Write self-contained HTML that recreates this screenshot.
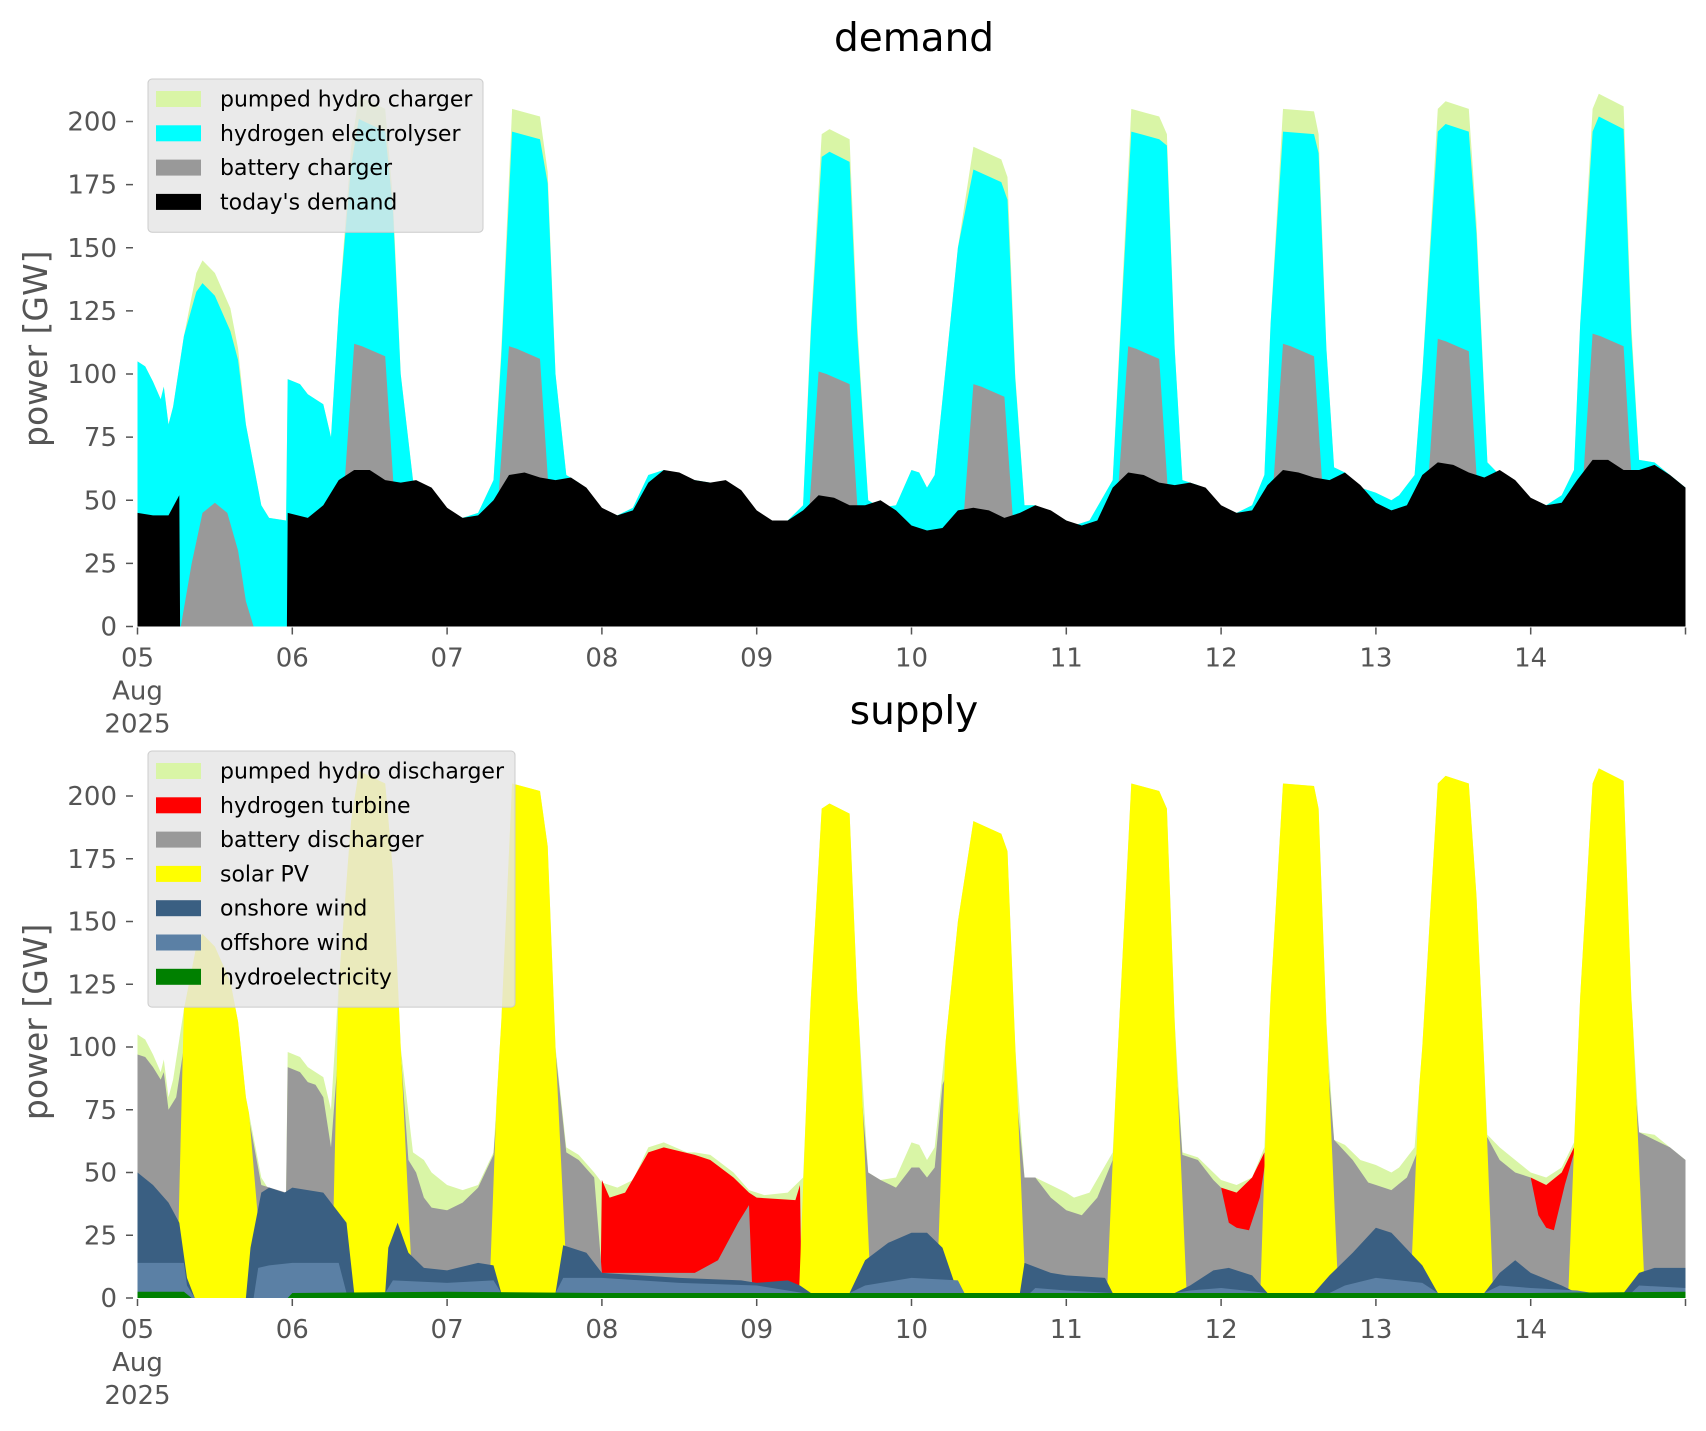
<!DOCTYPE html>
<html><head><meta charset="utf-8">
<style>
html,body{margin:0;padding:0;background:#fff;}
svg{display:block;font-family:"DejaVu Sans","Liberation Sans",sans-serif;}
</style></head>
<body>
<svg id="s" width="1706" height="1431" viewBox="0 0 1706 1431" xmlns="http://www.w3.org/2000/svg">
<g id="gtop"></g><g id="gbot"></g><g id="gann"></g>
</svg>
<script>
(function(){
var X0=137.5, DW=154.8;
function X(d){return X0+DW*d;}
var P1={z:626.5,k:2.525}, P2={z:1298,k:2.51};
function poly(P,pts,col){
  var s="M"+X(pts[0][0]).toFixed(1)+","+P.z.toFixed(1);
  for(var i=0;i<pts.length;i++){s+=" L"+X(pts[i][0]).toFixed(1)+","+(P.z-pts[i][1]*P.k).toFixed(1);}
  s+=" L"+X(pts[pts.length-1][0]).toFixed(1)+","+P.z.toFixed(1)+" Z";
  return '<path d="'+s+'" fill="'+col+'" stroke="none"/>';
}
var T=[[0,105],[0.05,103],[0.1,97],[0.15,90],[0.17,95],[0.2,80],[0.23,87],[0.3,115],[0.38,140],[0.42,145],[0.5,140],[0.6,126],[0.65,110],[0.7,80],[0.8,48],[0.85,43],[0.96,42],[0.97,98],[1.05,96],[1.1,92],[1.15,90],[1.2,88],[1.25,75],[1.3,125],[1.38,190],[1.43,210],[1.6,205],[1.65,170],[1.7,100],[1.78,58],[1.85,55],[1.9,50],[2.0,45],[2.1,43],[2.2,45],[2.3,58],[2.35,110],[2.42,205],[2.6,202],[2.65,180],[2.7,100],[2.77,60],[2.85,57],[2.95,50],[3.0,46],[3.1,44],[3.2,47],[3.3,60],[3.4,62],[3.55,58],[3.6,58],[3.7,57],[3.85,50],[3.95,43],[4.05,41],[4.2,42],[4.3,48],[4.35,120],[4.42,195],[4.47,197],[4.6,193],[4.65,120],[4.72,50],[4.8,47],[4.9,48],[5.0,62],[5.05,61],[5.1,55],[5.15,60],[5.2,90],[5.3,150],[5.4,190],[5.58,185],[5.62,178],[5.67,100],[5.73,48],[5.8,48],[5.9,45],[6.0,42],[6.05,40],[6.15,42],[6.3,58],[6.35,120],[6.42,205],[6.6,202],[6.65,195],[6.7,110],[6.75,58],[6.85,56],[6.95,50],[7.0,47],[7.1,45],[7.2,48],[7.28,60],[7.32,120],[7.4,205],[7.6,204],[7.63,195],[7.68,110],[7.73,63],[7.8,61],[7.9,55],[8.0,53],[8.1,50],[8.15,52],[8.25,60],[8.3,100],[8.4,205],[8.45,208],[8.6,205],[8.65,160],[8.72,65],[8.8,60],[8.9,55],[9.0,50],[9.1,48],[9.2,52],[9.28,62],[9.32,120],[9.4,205],[9.44,211],[9.6,206],[9.65,120],[9.7,66],[9.8,65],[9.9,60],[10.0,55]];
var peakDays={0:1,1:1,2:1,4:1,5:1,6:1,7:1,8:1,9:1};
var E=T.map(function(p){var k=Math.floor(p[0]),f=p[0]-k,ph=0;
  if(peakDays[k]){ph=9*Math.max(0,Math.min(1,Math.min(f-0.33,0.68-f)/0.06));}
  return [p[0],p[1]-ph];});
var D=[[0,45],[0.1,44],[0.2,44],[0.27,52],[0.275,0],[0.965,0],[0.97,45],[1.1,43],[1.2,48],[1.3,58],[1.4,62],[1.5,62],[1.6,58],[1.7,57],[1.8,58],[1.9,55],[2.0,47],[2.1,43],[2.2,44],[2.3,50],[2.4,60],[2.5,61],[2.6,59],[2.7,58],[2.8,59],[2.9,55],[3.0,47],[3.1,44],[3.2,46],[3.3,57],[3.4,62],[3.5,61],[3.6,58],[3.7,57],[3.8,58],[3.9,54],[4.0,46],[4.1,42],[4.2,42],[4.3,46],[4.4,52],[4.5,51],[4.6,48],[4.7,48],[4.8,50],[4.9,46],[5.0,40],[5.1,38],[5.2,39],[5.3,46],[5.4,47],[5.5,46],[5.6,43],[5.7,45],[5.8,48],[5.9,46],[6.0,42],[6.1,40],[6.2,42],[6.3,55],[6.4,61],[6.5,60],[6.6,57],[6.7,56],[6.8,57],[6.9,55],[7.0,48],[7.1,45],[7.2,46],[7.3,56],[7.4,62],[7.5,61],[7.6,59],[7.7,58],[7.8,61],[7.9,56],[8.0,49],[8.1,46],[8.2,48],[8.3,60],[8.4,65],[8.5,64],[8.6,61],[8.7,59],[8.8,62],[8.9,58],[9.0,51],[9.1,48],[9.2,49],[9.3,58],[9.4,66],[9.5,66],[9.6,62],[9.7,62],[9.8,64],[9.9,60],[10.0,55]];
var tp="";
tp+=poly(P1,T,"#d9f5a6");
tp+=poly(P1,E,"#00ffff");
tp+=poly(P1,[[0.28,0],[0.35,25],[0.42,45],[0.5,49],[0.58,45],[0.65,30],[0.7,10],[0.75,0]],"#999999");
var bp={1:112,2:111,4:101,5:96,6:111,7:112,8:114,9:116};
for(var k in bp){k=+k;var P=bp[k],lo=(k==4||k==5)?38:50;
 tp+=poly(P1,[[k+0.32,0],[k+0.33,lo],[k+0.4,P],[k+0.45,P-1],[k+0.6,P-5],[k+0.66,lo],[k+0.67,0]],"#999999");}
tp+=poly(P1,D,"#000000");
document.getElementById("gtop").innerHTML=tp;

var bt="";
bt+=poly(P2,T,"#d9f5a6");
var H=[[[2.99,0],[3.0,47],[3.05,40],[3.15,42],[3.3,58],[3.4,60],[3.6,57],[3.7,55],[3.85,48],[3.95,42],[4.0,40],[4.25,39],[4.28,45],[4.29,0]],
 [[7.0,0],[7.0,44],[7.1,42],[7.2,48],[7.28,58],[7.29,0]],
 [[9.0,0],[9.0,48],[9.1,45],[9.2,50],[9.28,60],[9.29,0]]];
H.forEach(function(h){bt+=poly(P2,h,"#ff0000");});
var Bs=[[0,97],[0.05,96],[0.1,92],[0.15,87],[0.17,90],[0.2,75],[0.25,80],[0.3,100],[0.7,78],[0.8,45],[0.96,42],[0.97,92],[1.05,90],[1.1,86],[1.15,85],[1.2,80],[1.25,60],[1.3,100],[1.7,98],[1.75,55],[1.8,50],[1.85,40],[1.9,36],[2.0,35],[2.1,38],[2.2,44],[2.3,57],[2.35,100],[2.7,98],[2.77,58],[2.85,55],[2.95,48],[3.0,10],[3.6,10],[3.75,15],[3.88,30],[3.95,37],[3.97,5],[4.28,5],[4.32,48],[4.4,100],[4.65,100],[4.72,50],[4.8,47],[4.9,44],[5.0,52],[5.05,52],[5.1,48],[5.15,52],[5.2,85],[5.3,100],[5.65,98],[5.73,48],[5.8,48],[5.9,40],[6.0,35],[6.1,33],[6.2,40],[6.3,55],[6.35,100],[6.7,100],[6.75,57],[6.85,55],[6.95,47],[7.0,44],[7.05,30],[7.1,28],[7.18,27],[7.25,40],[7.3,60],[7.35,100],[7.68,100],[7.73,63],[7.85,55],[7.95,46],[8.0,45],[8.1,43],[8.2,48],[8.3,63],[8.35,100],[8.7,64],[8.72,64],[8.8,55],[8.9,50],[9.0,48],[9.05,33],[9.1,28],[9.15,27],[9.22,45],[9.3,62],[9.35,100],[9.65,100],[9.7,66],[9.8,63],[9.9,60],[10,55]];
bt+=poly(P2,Bs,"#999999");
function Tat(t){for(var i=1;i<T.length;i++){if(T[i][0]>=t){var a=T[i-1],b=T[i];return a[1]+(b[1]-a[1])*(t-a[0])/(b[0]-a[0]);}}return T[T.length-1][1];}
function solar(s,e,s0,e0){
  var pts=[[s0,0],[s0+0.005,5]];
  pts.push([s,Tat(s)]);
  T.forEach(function(p){if(p[0]>s&&p[0]<e)pts.push([p[0],p[1]]);});
  pts.push([e,Tat(e)]);
  pts.push([e0-0.005,5]);pts.push([e0,0]);
  bt+=poly(P2,pts,"#ffff00");
}
solar(0.3,0.72,0.25,0.82);
var sw={1:[1.3,1.7,1.25,1.78],2:[2.32,2.7,2.27,2.78],4:[4.32,4.66,4.27,4.74],5:[5.22,5.66,5.16,5.74],6:[6.32,6.7,6.26,6.78],7:[7.3,7.68,7.25,7.76],8:[8.28,8.7,8.22,8.76],9:[9.3,9.66,9.24,9.74]};
for(var k in sw){var w=sw[k];solar(w[0],w[1],w[2],w[3]);}
var ON=[[0,50],[0.1,45],[0.2,38],[0.27,30],[0.32,8],[0.37,0],[0.7,0],[0.73,20],[0.8,42],[0.85,44],[0.95,42],[1.0,44],[1.2,42],[1.35,30],[1.4,2],[1.6,2],[1.62,20],[1.68,30],[1.75,18],[1.85,12],[2.0,11],[2.2,14],[2.3,13],[2.35,2],[2.7,2],[2.75,21],[2.9,18],[3.0,10],[3.5,8],[3.9,7],[4.0,6],[4.2,7],[4.28,5],[4.35,2],[4.6,2],[4.7,15],[4.85,22],[5.0,26],[5.1,26],[5.2,20],[5.3,2],[5.7,2],[5.73,14],[5.9,10],[6.0,9],[6.25,8],[6.3,2],[6.7,2],[6.8,5],[6.95,11],[7.05,12],[7.2,9],[7.3,2],[7.6,2],[7.7,9],[7.85,18],[8.0,28],[8.1,26],[8.3,13],[8.4,2],[8.7,2],[8.8,10],[8.9,15],[9.0,10],[9.2,5],[9.3,2],[9.6,2],[9.7,10],[9.8,12],[10,12]];
var OF=[[0,14],[0.3,14],[0.32,5],[0.37,0],[0.75,0],[0.78,12],[0.85,13],[1.0,14],[1.3,14],[1.35,2],[1.6,2],[1.65,7],[2.0,6],[2.3,7],[2.35,2],[2.7,2],[2.75,8],[3.0,8],[3.5,6],[4.0,5],[4.3,2],[4.6,2],[4.7,5],[5.0,8],[5.3,7],[5.35,1],[5.75,1],[5.8,4],[6.0,3],[6.3,2],[6.7,2],[6.8,3],[7.0,4],[7.3,2],[7.7,2],[7.8,5],[8.0,8],[8.3,6],[8.4,2],[8.7,2],[8.8,5],[9.0,4],[9.3,3],[9.4,2],[9.65,2],[9.7,5],[10,4]];
bt+=poly(P2,ON,"#3a5f82");
bt+=poly(P2,OF,"#5b80a5");
bt+=poly(P2,[[0,2.5],[0.3,2.5],[0.35,0],[0.97,0],[1.0,2],[2,2.5],[3,2],[4,2],[5,2],[6,2],[7,2],[8,2],[9,2],[10,2.5]],"#008000");
document.getElementById("gbot").innerHTML=bt;

var a="";
function axes(P){
 for(var v=0;v<=200;v+=25){var y=P.z-v*P.k;
  a+='<line x1="126" x2="133" y1="'+y+'" y2="'+y+'" stroke="#555" stroke-width="1.5"/>';
  a+='<text x="117" y="'+(y+9)+'" font-size="26" fill="#555" text-anchor="end">'+v+'</text>';}
 var lab=["05","06","07","08","09","10","11","12","13","14"];
 for(var i=0;i<=10;i++){var x=X(i);
  a+='<line x1="'+x+'" x2="'+x+'" y1="'+(P.z+1)+'" y2="'+(P.z+8)+'" stroke="#555" stroke-width="1.5"/>';
  if(i<10)a+='<text x="'+x+'" y="'+(P.z+40)+'" font-size="26" fill="#555" text-anchor="middle">'+lab[i]+'</text>';}
 a+='<text x="'+X(0)+'" y="'+(P.z+73)+'" font-size="26" fill="#555" text-anchor="middle">Aug</text>';
 a+='<text x="'+X(0)+'" y="'+(P.z+106)+'" font-size="26" fill="#555" text-anchor="middle">2025</text>';
 a+='<text transform="translate(47,'+(P.z-110*P.k)+') rotate(-90)" font-size="33" fill="#555" text-anchor="middle">power [GW]</text>';
}
axes(P1);axes(P2);
a+='<text x="914" y="51" font-size="39" fill="#000" text-anchor="middle">demand</text>';
a+='<text x="914" y="724" font-size="39" fill="#000" text-anchor="middle">supply</text>';
function legend(x,y,w,items){
 var h=items.length*34.3+16;
 a+='<rect x="'+x+'" y="'+y+'" width="'+w+'" height="'+h+'" rx="4" fill="rgba(229,229,229,0.82)" stroke="#cccccc" stroke-width="1"/>';
 items.forEach(function(it,i){var cy=y+20+i*34.3;
  a+='<rect x="156" y="'+(cy-8)+'" width="45" height="16" fill="'+it[1]+'"/>';
  a+='<text x="220" y="'+(cy+7.5)+'" font-size="22" fill="#000">'+it[0]+'</text>';});
}
legend(148,79,335,[["pumped hydro charger","#d9f5a6"],["hydrogen electrolyser","#00ffff"],["battery charger","#999999"],["today's demand","#000000"]]);
legend(148,751,367,[["pumped hydro discharger","#d9f5a6"],["hydrogen turbine","#ff0000"],["battery discharger","#999999"],["solar PV","#ffff00"],["onshore wind","#3a5f82"],["offshore wind","#5b80a5"],["hydroelectricity","#008000"]]);
document.getElementById("gann").innerHTML=a;
})();
</script>
</body></html>
